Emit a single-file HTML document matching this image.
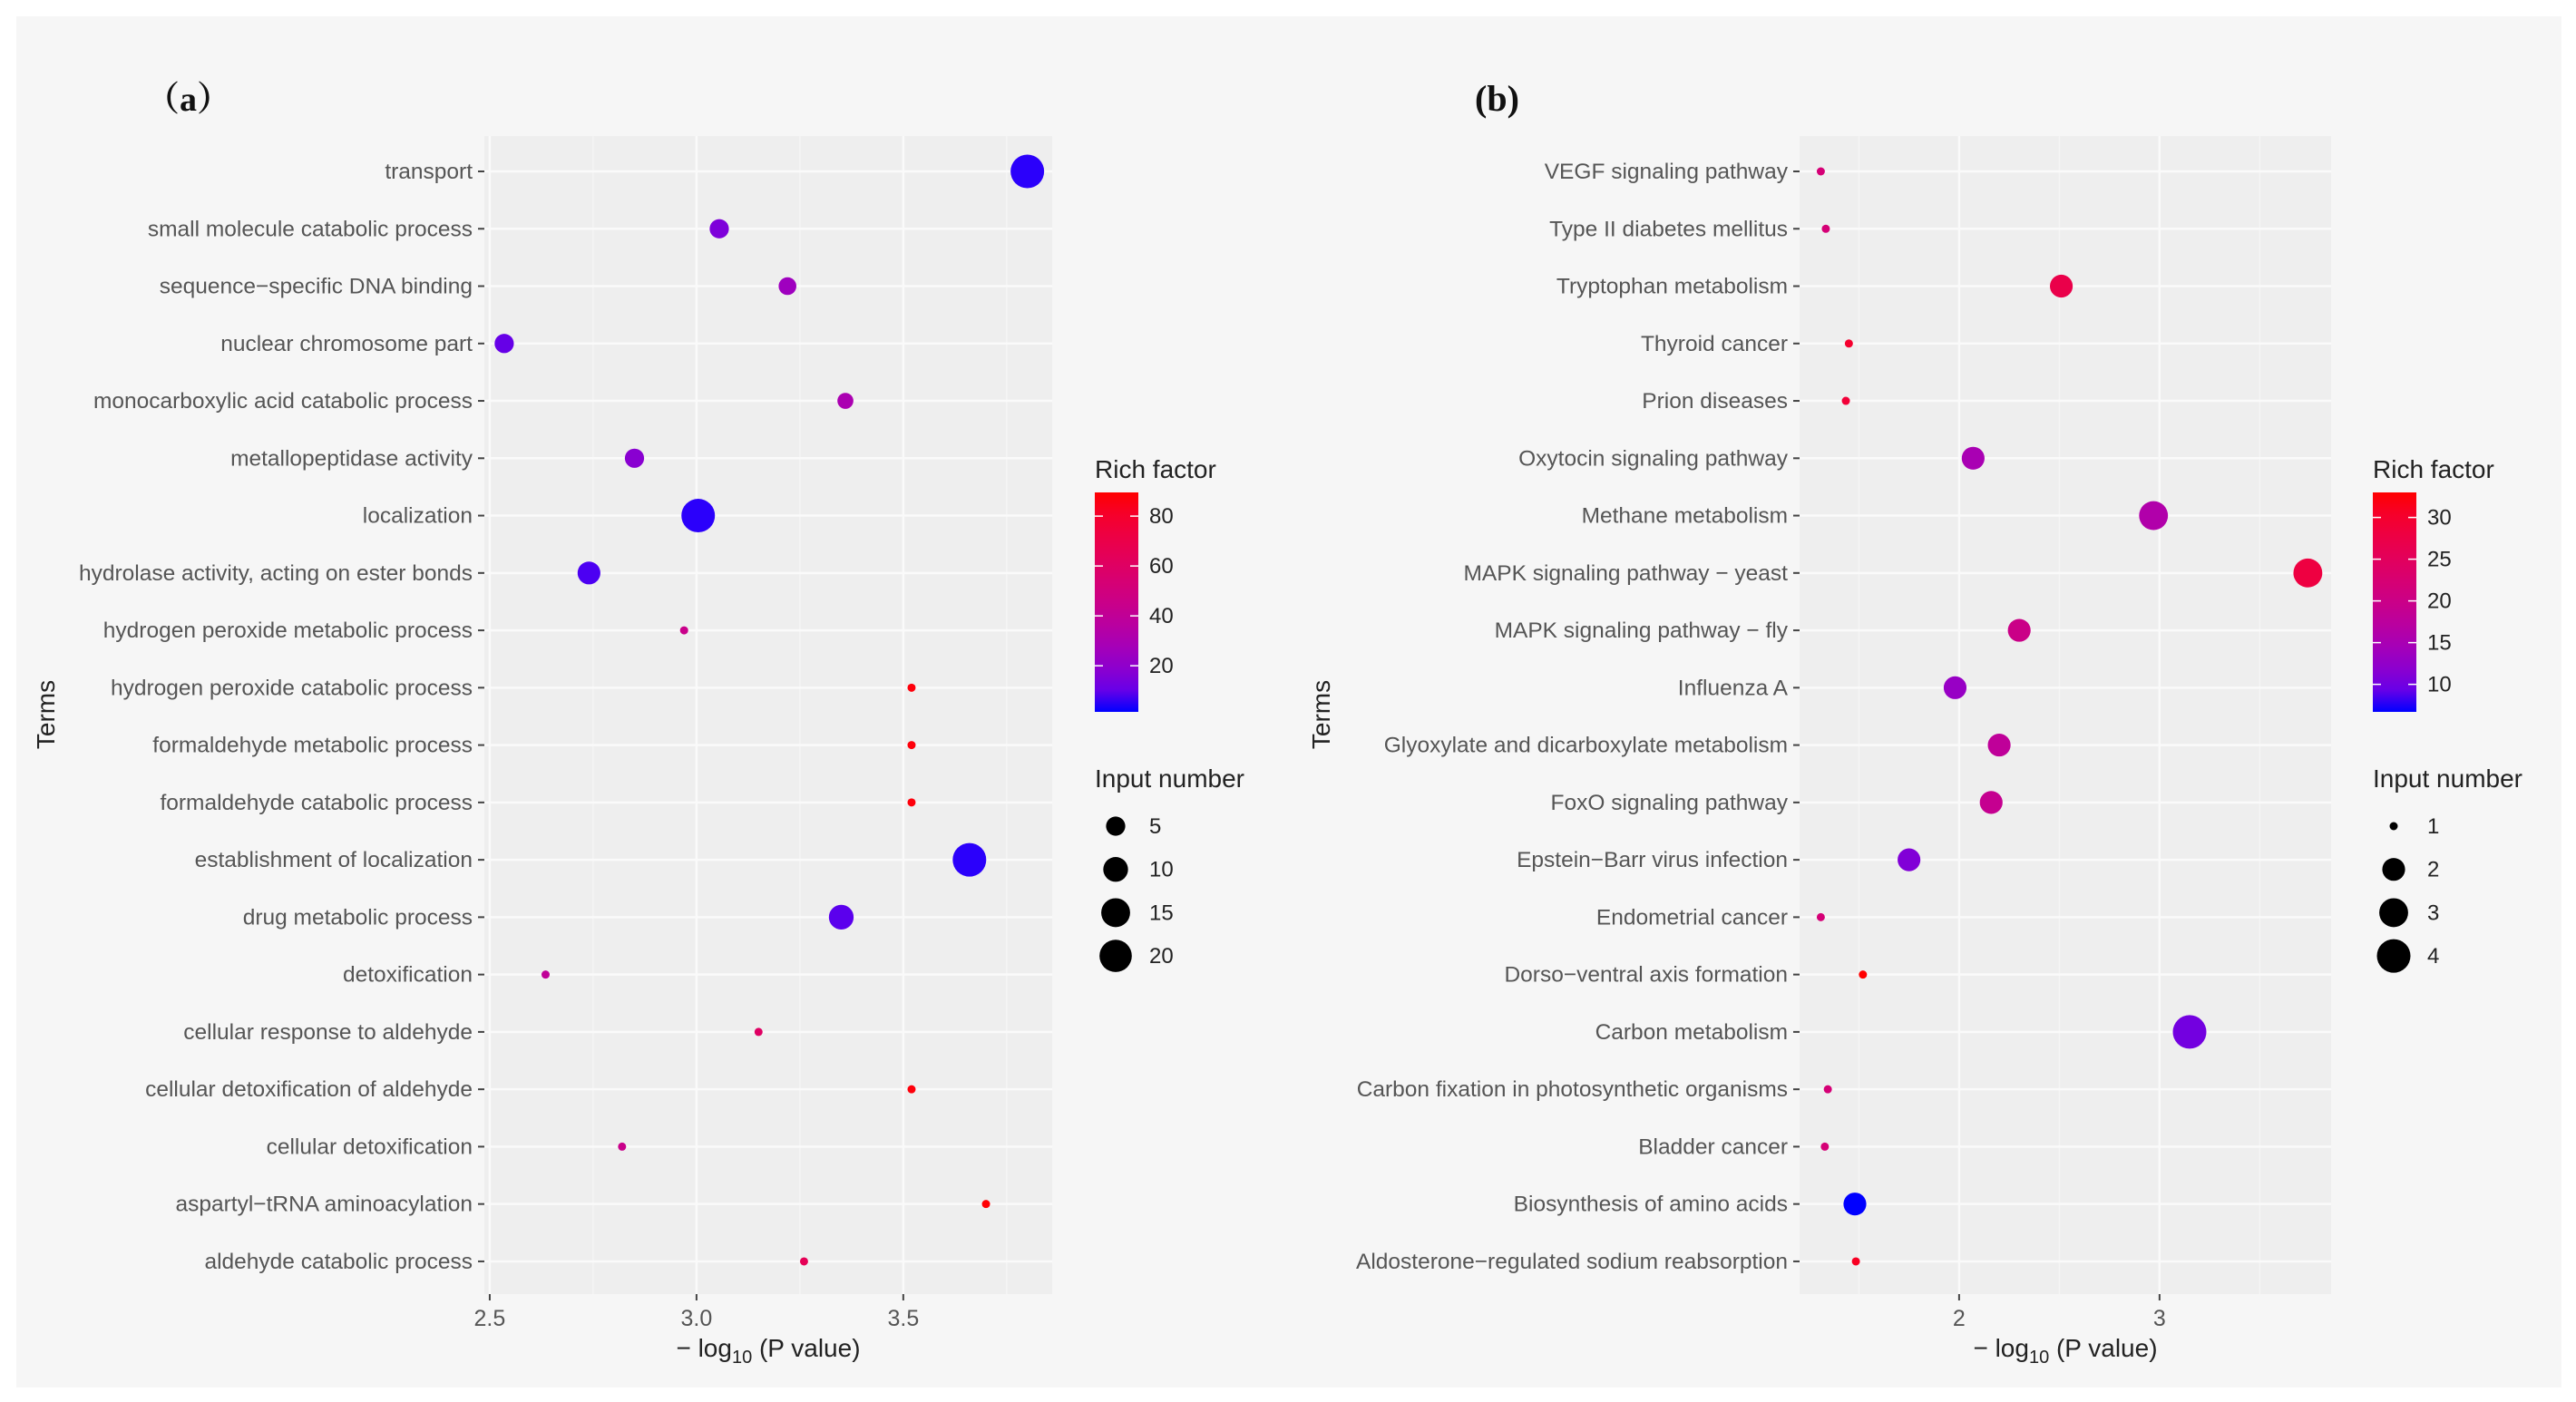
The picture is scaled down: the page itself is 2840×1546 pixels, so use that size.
<!DOCTYPE html>
<html><head><meta charset="utf-8">
<style>
html,body{margin:0;padding:0;background:#fff;}
svg{display:block;}
</style></head>
<body>
<svg id="fig" width="2840" height="1546" viewBox="0 0 2840 1546" xmlns="http://www.w3.org/2000/svg" font-family="Liberation Sans, sans-serif">
<rect x="18" y="18" width="2806" height="1512" fill="#f6f6f6"/>
<text x="160" y="122" style="font-family:'Liberation Serif','Noto Serif CJK SC',serif;font-weight:bold" font-size="38" fill="#111">（a）</text>
<text x="1626" y="122" style="font-family:'Liberation Serif',serif;font-weight:bold" font-size="40" fill="#111">(b)</text>
</svg>
<script>
// ---- Panel (a) data ----
const termsA = ["transport","small molecule catabolic process","sequence\u2212specific DNA binding","nuclear chromosome part","monocarboxylic acid catabolic process","metallopeptidase activity","localization","hydrolase activity, acting on ester bonds","hydrogen peroxide metabolic process","hydrogen peroxide catabolic process","formaldehyde metabolic process","formaldehyde catabolic process","establishment of localization","drug metabolic process","detoxification","cellular response to aldehyde","cellular detoxification of aldehyde","cellular detoxification","aspartyl\u2212tRNA aminoacylation","aldehyde catabolic process"];
const pvalA = [3.80,3.055,3.22,2.535,3.36,2.85,3.004,2.74,2.97,3.52,3.52,3.52,3.66,3.35,2.635,3.15,3.52,2.82,3.70,3.26];
const countA = [22,5,4,5,3,5,22,8,1,1,1,1,22,10,1,1,1,1,1,1];
const richA = [3,15,25,10,30,18,3,6,45,88,88,88,3,8,40,60,88,45,89,65];
const xTicksA = [2.5,3.0,3.5];
const xTickLabelsA = ["2.5","3.0","3.5"];
const colorTicksA = [20,40,60,80];
const sizeLegendA = [5,10,15,20];

// ---- Panel (b) data ----
const termsB = ["VEGF signaling pathway","Type II diabetes mellitus","Tryptophan metabolism","Thyroid cancer","Prion diseases","Oxytocin signaling pathway","Methane metabolism","MAPK signaling pathway \u2212 yeast","MAPK signaling pathway \u2212 fly","Influenza A","Glyoxylate and dicarboxylate metabolism","FoxO signaling pathway","Epstein\u2212Barr virus infection","Endometrial cancer","Dorso\u2212ventral axis formation","Carbon metabolism","Carbon fixation in photosynthetic organisms","Bladder cancer","Biosynthesis of amino acids","Aldosterone\u2212regulated sodium reabsorption"];
const pvalB = [1.31,1.335,2.51,1.45,1.435,2.07,2.97,3.74,2.30,1.98,2.20,2.16,1.75,1.31,1.52,3.15,1.345,1.33,1.48,1.485];
const countB = [1,1,2,1,1,2,3,3,2,2,2,2,2,1,1,4,1,1,2,1];
const richB = [22,22,27,30,29,15,16,28,20,13,18,19,11,22,33,10,22,22,6.7,31];
const xTicksB = [2,3];
const xTickLabelsB = ["2","3"];
const colorTicksB = [10,15,20,25,30];
const sizeLegendB = [1,2,3,4];

const NS="http://www.w3.org/2000/svg";
const svg=document.getElementById('fig');
function mk(tag,attrs,parent){const e=document.createElementNS(NS,tag);for(const k in attrs)e.setAttribute(k,attrs[k]);(parent||svg).appendChild(e);return e;}

function srgb2lin(c){c/=255;return c<=0.04045?c/12.92:Math.pow((c+0.055)/1.055,2.4);}
function lin2srgb(c){c=c<=0.0031308?12.92*c:1.055*Math.pow(c,1/2.4)-0.055;return Math.max(0,Math.min(255,Math.round(c*255)));}
function toLab(r,g,b){r=srgb2lin(r);g=srgb2lin(g);b=srgb2lin(b);
 let X=(0.4124*r+0.3576*g+0.1805*b)/0.95047,Y=(0.2126*r+0.7152*g+0.0722*b),Z=(0.0193*r+0.1192*g+0.9505*b)/1.08883;
 const f=t=>t>0.008856?Math.cbrt(t):7.787*t+16/116;X=f(X);Y=f(Y);Z=f(Z);return [116*Y-16,500*(X-Y),200*(Y-Z)];}
function fromLab(L,a,b){let Y=(L+16)/116,X=a/500+Y,Z=Y-b/200;const fi=t=>t*t*t>0.008856?t*t*t:(t-16/116)/7.787;
 X=fi(X)*0.95047;Y=fi(Y);Z=fi(Z)*1.08883;
 const r=3.2406*X-1.5372*Y-0.4986*Z,g=-0.9689*X+1.8758*Y+0.0415*Z,bb=0.0557*X-0.2040*Y+1.0570*Z;
 return `rgb(${lin2srgb(r)},${lin2srgb(g)},${lin2srgb(bb)})`;}
const LB=toLab(0,0,255),LR=toLab(255,0,0);
function col(t){t=Math.max(0,Math.min(1,t));return fromLab(LB[0]+(LR[0]-LB[0])*t,LB[1]+(LR[1]-LB[1])*t,LB[2]+(LR[2]-LB[2])*t);}

function panel(cfg){
 const {terms,pv,cnt,rich,xt,xtl,ct,sl,left,right,xmin,xmax,cmin,cmax,legX,termsX,id}=cfg;
 const top=150,bottom=1427,rowTop=189,rowStep=63.26;
 const xs=v=>left+(v-xmin)/(xmax-xmin)*(right-left);
 const ys=i=>rowTop+i*rowStep;
 const nmin=Math.min(...cnt),nmax=Math.max(...cnt);
 const rs=n=>4.5+(18.5-4.5)*Math.sqrt(Math.max(0,(n-nmin)/(nmax-nmin)));
 const g=mk('g',{});
 
 
 const bg=mk('rect',{x:left,y:top,width:right-left,height:bottom-top,fill:'#eeeeee'},g);
 
 
 const step=xt[1]-xt[0];
 for(let v=xt[0]-step*3.5;v<=xmax;v+=step){if(v<xmin)continue;
  const l=mk('line',{x1:xs(v),x2:xs(v),y1:top,y2:bottom,stroke:'#f5f5f5','stroke-width':1.5},g);
  
  }
 xt.forEach((v,i)=>{const l=mk('line',{x1:xs(v),x2:xs(v),y1:top,y2:bottom,stroke:'#fafafa','stroke-width':2.5},g);
  
  
  mk('line',{x1:xs(v),x2:xs(v),y1:bottom,y2:bottom+7,stroke:'#444','stroke-width':2},g);
  const t=mk('text',{x:xs(v),y:1462,'font-size':25,fill:'#555','text-anchor':'middle'},g);t.textContent=xtl[i];
  
  });
 terms.forEach((tm,i)=>{const y=ys(i);
  const l=mk('line',{x1:left,x2:right,y1:y,y2:y,stroke:'#fafafa','stroke-width':2.5},g);
  
  
  mk('line',{x1:left-7,x2:left,y1:y,y2:y,stroke:'#444','stroke-width':2},g);
  const t=mk('text',{x:left-13,y:y+8,'font-size':24.5,fill:'#555','text-anchor':'end'},g);t.textContent=tm;
  
  });
 terms.forEach((tm,i)=>{const c=mk('circle',{cx:xs(pv[i]),cy:ys(i),r:rs(cnt[i]),fill:col((rich[i]-cmin)/(cmax-cmin))},g);
  
  });
 const xtit=mk('text',{x:(left+right)/2,y:1496,'font-size':28,fill:'#222','text-anchor':'middle'},g);
 
 
 xtit.innerHTML='\u2212 log<tspan font-size="20" dy="7">10</tspan><tspan dy="-7"> (P value)</tspan>';
 const yt=mk('text',{x:termsX,y:788,'font-size':28,fill:'#222','text-anchor':'middle',transform:`rotate(-90 ${termsX} 788)`},g);yt.textContent='Terms';
 
 
 const lt=mk('text',{x:legX,y:527,'font-size':28,fill:'#222'},g);lt.textContent='Rich factor';
 
 
 const gid='grad'+id;const defs=mk('defs',{},g);const gr=mk('linearGradient',{id:gid,x1:0,y1:1,x2:0,y2:0},defs);
 for(let k=0;k<=10;k++)mk('stop',{offset:k/10,'stop-color':col(k/10)},gr);
 const cbTop=543,cbBot=785;
 const cb=mk('rect',{x:legX,y:cbTop,width:48,height:cbBot-cbTop,fill:`url(#${gid})`},g);
 
 
 const cy=v=>cbBot-(v-cmin)/(cmax-cmin)*(cbBot-cbTop);
 ct.forEach(v=>{mk('line',{x1:legX,x2:legX+9,y1:cy(v),y2:cy(v),stroke:'#fff','stroke-width':1.5},g);
  mk('line',{x1:legX+39,x2:legX+48,y1:cy(v),y2:cy(v),stroke:'#fff','stroke-width':1.5},g);
  const t=mk('text',{x:legX+60,y:cy(v)+8,'font-size':24,fill:'#222'},g);t.textContent=v;
  
  });
 const st=mk('text',{x:legX,y:868,'font-size':28,fill:'#222'},g);st.textContent='Input number';
 
 
 sl.forEach((n,k)=>{const y=911+k*47.7;
  const c=mk('circle',{cx:legX+23,cy:y,r:rs(n),fill:'#000'},g);
  
  
  const t=mk('text',{x:legX+60,y:y+8,'font-size':24,fill:'#222'},g);t.textContent=n;
  
  });
}
panel({terms:termsA,pv:pvalA,cnt:countA,rich:richA,xt:xTicksA,xtl:xTickLabelsA,ct:colorTicksA,sl:sizeLegendA,
 left:534,right:1160,xmin:2.487,xmax:3.86,cmin:1.5,cmax:89.5,legX:1207,termsX:60,id:'a'});
panel({terms:termsB,pv:pvalB,cnt:countB,rich:richB,xt:xTicksB,xtl:xTickLabelsB,ct:colorTicksB,sl:sizeLegendB,
 left:1984,right:2570,xmin:1.204,xmax:3.856,cmin:6.7,cmax:33,legX:2616,termsX:1466,id:'b'});
</script>
</body></html>
